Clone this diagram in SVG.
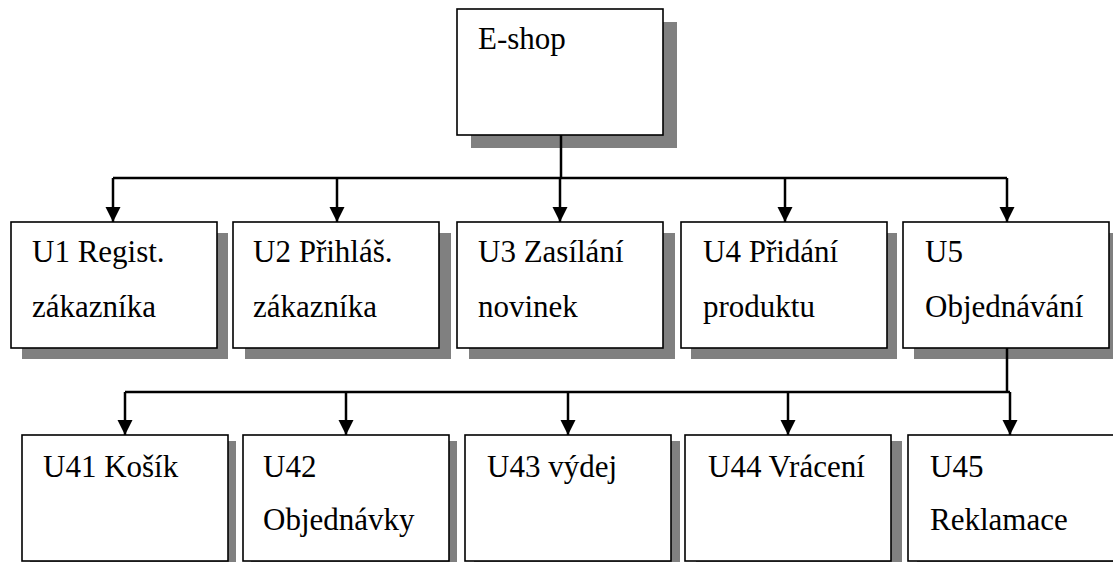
<svg xmlns="http://www.w3.org/2000/svg" width="1113" height="562" viewBox="0 0 1113 562">
<style>
.sh{fill:#808080;stroke:none}
.bx{fill:#fff;stroke:#000;stroke-width:1.6}
.t{font-family:'Liberation Serif','Times New Roman',Tinos,'DejaVu Serif',serif;font-size:31px;fill:#000}
.c{fill:none;stroke:#000;stroke-width:2.5}
.a{fill:none;stroke:#000;stroke-width:2.5;marker-end:url(#ah)}
</style>
<defs>
<marker id="ah" markerWidth="15" markerHeight="16" refX="15" refY="7.5" orient="auto" markerUnits="userSpaceOnUse">
<path d="M0,0 L15,7.5 L0,15 z" fill="#000"/>
</marker>
</defs>
<rect width="1113" height="562" fill="#fff"/>
<g id="eshop">
<rect class="sh" x="471" y="22" width="206" height="126"/>
<rect class="bx" x="457" y="9" width="206" height="126"/>
<text class="t" x="478" y="49" font-family="Liberation Serif, serif">E-shop</text>
</g>
<g id="u1">
<rect class="sh" x="22" y="233" width="206" height="126"/>
<rect class="bx" x="11" y="222" width="206" height="126"/>
<text class="t" x="32" y="262">U1 Regist.</text>
<text class="t" x="32" y="317">zákazníka</text>
</g>
<g id="u2">
<rect class="sh" x="245" y="233" width="206" height="126"/>
<rect class="bx" x="233" y="222" width="206" height="126"/>
<text class="t" x="253" y="262">U2 Přihláš.</text>
<text class="t" x="253" y="317">zákazníka</text>
</g>
<g id="u3">
<rect class="sh" x="469" y="233" width="206" height="126"/>
<rect class="bx" x="457" y="222" width="206" height="126"/>
<text class="t" x="478" y="262">U3 Zasílání</text>
<text class="t" x="478" y="317">novinek</text>
</g>
<g id="u4">
<rect class="sh" x="691" y="233" width="206" height="126"/>
<rect class="bx" x="681" y="222" width="206" height="126"/>
<text class="t" x="703" y="262">U4 Přidání</text>
<text class="t" x="703" y="317">produktu</text>
</g>
<g id="u5">
<rect class="sh" x="914" y="233" width="206" height="126"/>
<rect class="bx" x="903" y="222" width="206" height="126"/>
<text class="t" x="925" y="262">U5</text>
<text class="t" x="925" y="317">Objednávání</text>
</g>
<g id="u41">
<rect class="sh" x="30" y="441" width="206" height="126"/>
<rect class="bx" x="22" y="435" width="206" height="126"/>
<text class="t" x="43" y="477">U41 Košík</text>
</g>
<g id="u42">
<rect class="sh" x="251" y="441" width="206" height="126"/>
<rect class="bx" x="243" y="435" width="206" height="126"/>
<text class="t" x="263" y="477">U42</text>
<text class="t" x="263" y="530">Objednávky</text>
</g>
<g id="u43">
<rect class="sh" x="474" y="441" width="206" height="126"/>
<rect class="bx" x="465" y="435" width="206" height="126"/>
<text class="t" x="487" y="477">U43 výdej</text>
</g>
<g id="u44">
<rect class="sh" x="696" y="441" width="206" height="126"/>
<rect class="bx" x="685" y="435" width="206" height="126"/>
<text class="t" x="708" y="477">U44 Vrácení</text>
</g>
<g id="u45">
<rect class="sh" x="917" y="441" width="206" height="126"/>
<rect class="bx" x="908" y="435" width="206" height="126"/>
<text class="t" x="930" y="477">U45</text>
<text class="t" x="930" y="530">Reklamace</text>
</g>
<g id="connectors">
<path class="c" d="M561,135 V178 M113,178 H1007"/>
<path class="a" d="M113,178 V222"/>
<path class="a" d="M337,178 V222"/>
<path class="a" d="M560,178 V222"/>
<path class="a" d="M785,178 V222"/>
<path class="a" d="M1007,178 V222"/>
<path class="c" d="M1007,348 V392 M125,392 H1010"/>
<path class="a" d="M125,392 V435"/>
<path class="a" d="M346,392 V435"/>
<path class="a" d="M568,392 V435"/>
<path class="a" d="M788,392 V435"/>
<path class="a" d="M1010,392 V435"/>
</g>
</svg>
